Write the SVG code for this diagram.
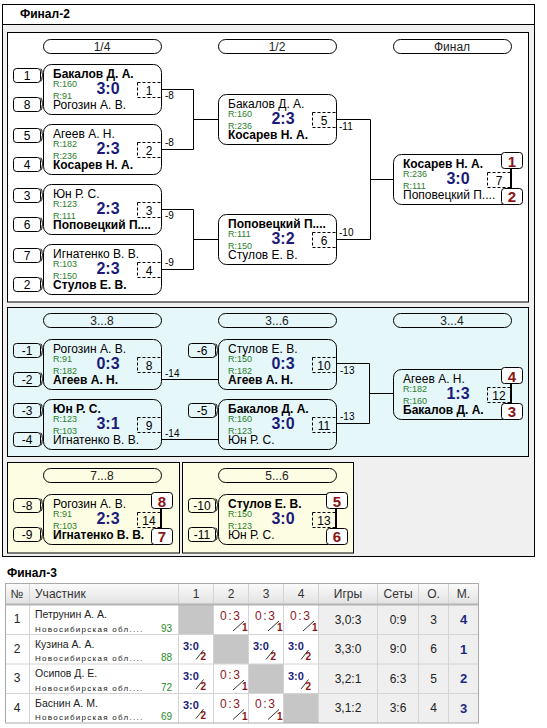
<svg xmlns="http://www.w3.org/2000/svg" xmlns:xlink="http://www.w3.org/1999/xlink" width="547" height="728" viewBox="0 0 547 728">
<style>
text{font-family:"Liberation Sans",Arial,sans-serif;fill:#000}
.frm{fill:#f0f0f0;stroke:#000}
.pnl{stroke:#000}
.box{fill:none;stroke:#000}
.seed{fill:none;stroke:#000}
.dash{fill:none;stroke:#000;stroke-dasharray:3,2}
.place{fill:#fff;stroke:#000}
.conn{fill:none;stroke:#000}
.br{fill:none;stroke:#000}
.ttl{font-size:12px;font-weight:bold}
.ph{font-size:12px;text-anchor:middle;fill:#222}
.nb{font-size:12px;font-weight:bold}
.nr{font-size:12px}
.r{font-size:9px;fill:#2b7d2b}
.sc{font-size:16px;font-weight:bold;fill:#1b1b78;text-anchor:middle}
.num{font-size:12px;text-anchor:middle}
.lbl{font-size:10px}
.pl{font-size:15px;font-weight:bold;fill:#8b1414;text-anchor:middle}
.th{font-size:12px;fill:#333}
.thc{font-size:12px;fill:#333;text-anchor:middle}
.tn{font-size:10.5px;fill:#222}
.reg{font-size:8px;fill:#222;letter-spacing:0.8px}
.rt{font-size:10px;fill:#2b8a2b;text-anchor:end}
.st{font-size:12px;fill:#222;text-anchor:middle}
.mp{font-size:13px;font-weight:bold;fill:#1b2a80;text-anchor:middle}
.lo{font-size:12px;fill:#8b1a1a}
.wi{font-size:11px;font-weight:bold;fill:#1b1b78}
.dg{font-size:10px;font-weight:bold;fill:#8b1414}
.sl{stroke:#333;stroke-width:1}
.grid{stroke:#d4d4d4;stroke-width:1}
</style>
<defs>
<path id="br" class="br" d="M0,1 C2.5,1 0.5,7 3,7 C0.5,7 2.5,13 0,13"/>
<linearGradient id="hg" x1="0" y1="0" x2="0" y2="1"><stop offset="0" stop-color="#fbfbfb"/><stop offset="1" stop-color="#e2e2e2"/></linearGradient>
</defs>

<!-- frame and panels -->
<rect class="frm" x="2.5" y="4.5" width="532" height="552"/>
<rect x="2.5" y="4.5" width="532" height="20" fill="#fff" stroke="#000"/>
<text class="ttl" x="20" y="18">Финал-2</text>
<rect class="pnl" x="7.5" y="32.5" width="521" height="269.5" fill="#fff"/>
<rect class="pnl" x="7.5" y="307.5" width="521" height="149" fill="#e6f7fa"/>
<rect class="pnl" x="7.5" y="462.5" width="172" height="90.5" fill="#fdfde4"/>
<rect class="pnl" x="182.5" y="462.5" width="171" height="90.5" fill="#fdfde4"/>

<!-- round headers -->
<g id="hdr-1-4"><rect class="box" x="43.5" y="39.5" width="118" height="14" rx="7"/><text class="ph" x="102" y="50.5">1/4</text></g>
<g id="hdr-1-2"><rect class="box" x="218.5" y="39.5" width="118" height="14" rx="7"/><text class="ph" x="277" y="50.5">1/2</text></g>
<g id="hdr-final"><rect class="box" x="393.5" y="39.5" width="118" height="14" rx="7"/><text class="ph" x="452" y="50.5">Финал</text></g>
<g id="hdr-3-8"><rect class="box" x="43.5" y="313.5" width="118" height="14" rx="7"/><text class="ph" x="102" y="324.5">3...8</text></g>
<g id="hdr-3-6"><rect class="box" x="218.5" y="313.5" width="118" height="14" rx="7"/><text class="ph" x="277" y="324.5">3...6</text></g>
<g id="hdr-3-4"><rect class="box" x="393.5" y="313.5" width="118" height="14" rx="7"/><text class="ph" x="452" y="324.5">3...4</text></g>
<g id="hdr-7-8"><rect class="box" x="43.5" y="468.5" width="118" height="14" rx="7"/><text class="ph" x="102" y="479.5">7...8</text></g>
<g id="hdr-5-6"><rect class="box" x="218.5" y="468.5" width="118" height="14" rx="7"/><text class="ph" x="277" y="479.5">5...6</text></g>

<!-- connectors -->
<g id="connectors">
<path class="conn" d="M161,89.5 H193.5 V149.5 H161 M193.5,119.5 H218"/>
<path class="conn" d="M161,209.5 H193.5 V269.5 H161 M193.5,239.5 H218"/>
<path class="conn" d="M336,119.5 H370.5 V239.5 H336 M370.5,179.5 H393"/>
<path class="conn" d="M161,379.5 H218 M161,439.5 H218"/>
<path class="conn" d="M336,363.5 H369.5 V423.5 H336 M369.5,393.5 H393"/>
<text class="lbl" x="165" y="99">-8</text>
<text class="lbl" x="165" y="146">-8</text>
<text class="lbl" x="165" y="219">-9</text>
<text class="lbl" x="165" y="266">-9</text>
<text class="lbl" x="339" y="130">-11</text>
<text class="lbl" x="339" y="236">-10</text>
<text class="lbl" x="165" y="376.5">-14</text>
<text class="lbl" x="165" y="436.5">-14</text>
<text class="lbl" x="340" y="374">-13</text>
<text class="lbl" x="340" y="420">-13</text>
</g>

<!-- QF match 1 -->
<g id="m1">
<rect class="seed" x="13.5" y="68.5" width="27" height="14" rx="3"/><text class="num" x="27" y="79.5">1</text><use xlink:href="#br" x="40.5" y="68"/>
<rect class="seed" x="13.5" y="97.5" width="27" height="14" rx="3"/><text class="num" x="27" y="108.5">8</text><use xlink:href="#br" x="40.5" y="97"/>
<rect class="box" x="43.5" y="64.5" width="118" height="50" rx="8"/>
<text class="nb" x="53" y="78">Бакалов Д. А.</text><text class="r" x="53" y="87">R:160</text><text class="r" x="53" y="99">R:91</text><text class="nr" x="53" y="109">Рогозин А. В.</text>
<text class="sc" x="108" y="94">3:0</text>
<rect class="dash" x="137.5" y="82.5" width="24" height="15"/><text class="num" x="149" y="94.5">1</text>
</g>
<g id="m2">
<rect class="seed" x="13.5" y="128.5" width="27" height="14" rx="3"/><text class="num" x="27" y="139.5">5</text><use xlink:href="#br" x="40.5" y="128"/>
<rect class="seed" x="13.5" y="157.5" width="27" height="14" rx="3"/><text class="num" x="27" y="168.5">4</text><use xlink:href="#br" x="40.5" y="157"/>
<rect class="box" x="43.5" y="124.5" width="118" height="50" rx="8"/>
<text class="nr" x="53" y="138">Агеев А. Н.</text><text class="r" x="53" y="147">R:182</text><text class="r" x="53" y="159">R:236</text><text class="nb" x="53" y="169">Косарев Н. А.</text>
<text class="sc" x="108" y="154">2:3</text>
<rect class="dash" x="137.5" y="142.5" width="24" height="15"/><text class="num" x="149" y="154.5">2</text>
</g>
<g id="m3">
<rect class="seed" x="13.5" y="188.5" width="27" height="14" rx="3"/><text class="num" x="27" y="199.5">3</text><use xlink:href="#br" x="40.5" y="188"/>
<rect class="seed" x="13.5" y="217.5" width="27" height="14" rx="3"/><text class="num" x="27" y="228.5">6</text><use xlink:href="#br" x="40.5" y="217"/>
<rect class="box" x="43.5" y="184.5" width="118" height="50" rx="8"/>
<text class="nr" x="53" y="198">Юн Р. С.</text><text class="r" x="53" y="207">R:123</text><text class="r" x="53" y="219">R:111</text><text class="nb" x="53" y="229">Поповецкий П....</text>
<text class="sc" x="108" y="214">2:3</text>
<rect class="dash" x="137.5" y="202.5" width="24" height="15"/><text class="num" x="149" y="214.5">3</text>
</g>
<g id="m4">
<rect class="seed" x="13.5" y="248.5" width="27" height="14" rx="3"/><text class="num" x="27" y="259.5">7</text><use xlink:href="#br" x="40.5" y="248"/>
<rect class="seed" x="13.5" y="277.5" width="27" height="14" rx="3"/><text class="num" x="27" y="288.5">2</text><use xlink:href="#br" x="40.5" y="277"/>
<rect class="box" x="43.5" y="244.5" width="118" height="50" rx="8"/>
<text class="nr" x="53" y="258">Игнатенко В. В.</text><text class="r" x="53" y="267">R:103</text><text class="r" x="53" y="279">R:150</text><text class="nb" x="53" y="289">Стулов Е. В.</text>
<text class="sc" x="108" y="274">2:3</text>
<rect class="dash" x="137.5" y="262.5" width="24" height="15"/><text class="num" x="149" y="274.5">4</text>
</g>
<g id="m5">
<rect class="box" x="218.5" y="94.5" width="118" height="50" rx="8"/>
<text class="nr" x="228" y="108">Бакалов Д. А.</text><text class="r" x="228" y="117">R:160</text><text class="r" x="228" y="129">R:236</text><text class="nb" x="228" y="139">Косарев Н. А.</text>
<text class="sc" x="283" y="124">2:3</text>
<rect class="dash" x="312.5" y="112.5" width="24" height="15"/><text class="num" x="324" y="124.5">5</text>
</g>
<g id="m6">
<rect class="box" x="218.5" y="214.5" width="118" height="50" rx="8"/>
<text class="nb" x="228" y="228">Поповецкий П....</text><text class="r" x="228" y="237">R:111</text><text class="r" x="228" y="249">R:150</text><text class="nr" x="228" y="259">Стулов Е. В.</text>
<text class="sc" x="283" y="244">3:2</text>
<rect class="dash" x="312.5" y="232.5" width="24" height="15"/><text class="num" x="324" y="244.5">6</text>
</g>
<g id="m7">
<rect class="box" x="393.5" y="154.5" width="118" height="50" rx="8"/>
<text class="nb" x="403" y="168">Косарев Н. А.</text><text class="r" x="403" y="177">R:236</text><text class="r" x="403" y="189">R:111</text><text class="nr" x="403" y="199">Поповецкий П....</text>
<text class="sc" x="458" y="184">3:0</text>
<rect class="dash" x="487.5" y="172.5" width="24" height="15"/><text class="num" x="499" y="184.5">7</text>
<line class="conn" x1="510.5" y1="168.5" x2="510.5" y2="188.5"/>
<rect class="place" x="501.5" y="152.5" width="21" height="16" rx="3"/><text class="pl" x="512" y="167">1</text>
<rect class="place" x="501.5" y="188.5" width="21" height="16" rx="3"/><text class="pl" x="512" y="202">2</text>
</g>

<!-- 3...8 -->
<g id="m8">
<rect class="seed" x="13.5" y="343.5" width="27" height="14" rx="3"/><text class="num" x="27" y="354.5">-1</text><use xlink:href="#br" x="40.5" y="343"/>
<rect class="seed" x="13.5" y="372.5" width="27" height="14" rx="3"/><text class="num" x="27" y="383.5">-2</text><use xlink:href="#br" x="40.5" y="372"/>
<rect class="box" x="43.5" y="339.5" width="118" height="50" rx="8"/>
<text class="nr" x="53" y="353">Рогозин А. В.</text><text class="r" x="53" y="362">R:91</text><text class="r" x="53" y="374">R:182</text><text class="nb" x="53" y="384">Агеев А. Н.</text>
<text class="sc" x="108" y="369">0:3</text>
<rect class="dash" x="137.5" y="357.5" width="24" height="15"/><text class="num" x="149" y="369.5">8</text>
</g>
<g id="m9">
<rect class="seed" x="13.5" y="403.5" width="27" height="14" rx="3"/><text class="num" x="27" y="414.5">-3</text><use xlink:href="#br" x="40.5" y="403"/>
<rect class="seed" x="13.5" y="432.5" width="27" height="14" rx="3"/><text class="num" x="27" y="443.5">-4</text><use xlink:href="#br" x="40.5" y="432"/>
<rect class="box" x="43.5" y="399.5" width="118" height="50" rx="8"/>
<text class="nb" x="53" y="413">Юн Р. С.</text><text class="r" x="53" y="422">R:123</text><text class="r" x="53" y="434">R:103</text><text class="nr" x="53" y="444">Игнатенко В. В.</text>
<text class="sc" x="108" y="429">3:1</text>
<rect class="dash" x="137.5" y="417.5" width="24" height="15"/><text class="num" x="149" y="429.5">9</text>
</g>
<g id="m10">
<rect class="seed" x="188.5" y="343.5" width="27" height="14" rx="3"/><text class="num" x="202" y="354.5">-6</text><use xlink:href="#br" x="215.5" y="343"/>
<rect class="box" x="218.5" y="339.5" width="118" height="50" rx="8"/>
<text class="nr" x="228" y="353">Стулов Е. В.</text><text class="r" x="228" y="362">R:150</text><text class="r" x="228" y="374">R:182</text><text class="nb" x="228" y="384">Агеев А. Н.</text>
<text class="sc" x="283" y="369">0:3</text>
<rect class="dash" x="312.5" y="357.5" width="24" height="15"/><text class="num" x="324" y="369.5">10</text>
</g>
<g id="m11">
<rect class="seed" x="188.5" y="403.5" width="27" height="14" rx="3"/><text class="num" x="202" y="414.5">-5</text><use xlink:href="#br" x="215.5" y="403"/>
<rect class="box" x="218.5" y="399.5" width="118" height="50" rx="8"/>
<text class="nb" x="228" y="413">Бакалов Д. А.</text><text class="r" x="228" y="422">R:160</text><text class="r" x="228" y="434">R:123</text><text class="nr" x="228" y="444">Юн Р. С.</text>
<text class="sc" x="283" y="429">3:0</text>
<rect class="dash" x="312.5" y="417.5" width="24" height="15"/><text class="num" x="324" y="429.5">11</text>
</g>
<g id="m12">
<rect class="box" x="393.5" y="369.5" width="118" height="50" rx="8"/>
<text class="nr" x="403" y="383">Агеев А. Н.</text><text class="r" x="403" y="392">R:182</text><text class="r" x="403" y="404">R:160</text><text class="nb" x="403" y="414">Бакалов Д. А.</text>
<text class="sc" x="458" y="399">1:3</text>
<rect class="dash" x="487.5" y="387.5" width="24" height="15"/><text class="num" x="499" y="399.5">12</text>
<line class="conn" x1="510.5" y1="383.5" x2="510.5" y2="403.5"/>
<rect class="place" x="501.5" y="367.5" width="21" height="16" rx="3"/><text class="pl" x="512" y="382">4</text>
<rect class="place" x="501.5" y="403.5" width="21" height="16" rx="3"/><text class="pl" x="512" y="417">3</text>
</g>

<!-- 7...8 -->
<g id="m14">
<rect class="seed" x="13.5" y="498.5" width="27" height="14" rx="3"/><text class="num" x="27" y="509.5">-8</text><use xlink:href="#br" x="40.5" y="498"/>
<rect class="seed" x="13.5" y="527.5" width="27" height="14" rx="3"/><text class="num" x="27" y="538.5">-9</text><use xlink:href="#br" x="40.5" y="527"/>
<rect class="box" x="43.5" y="494.5" width="118" height="50" rx="8"/>
<text class="nr" x="53" y="508">Рогозин А. В.</text><text class="r" x="53" y="517">R:91</text><text class="r" x="53" y="529">R:103</text><text class="nb" x="53" y="539">Игнатенко В. В.</text>
<text class="sc" x="108" y="524">2:3</text>
<rect class="dash" x="137.5" y="512.5" width="24" height="15"/><text class="num" x="149" y="524.5">14</text>
<line class="conn" x1="160.5" y1="508.5" x2="160.5" y2="528.5"/>
<rect class="place" x="151.5" y="492.5" width="21" height="16" rx="3"/><text class="pl" x="162" y="507">8</text>
<rect class="place" x="151.5" y="528.5" width="21" height="16" rx="3"/><text class="pl" x="162" y="542">7</text>
</g>
<!-- 5...6 -->
<g id="m13">
<rect class="seed" x="188.5" y="498.5" width="27" height="14" rx="3"/><text class="num" x="202" y="509.5">-10</text><use xlink:href="#br" x="215.5" y="498"/>
<rect class="seed" x="188.5" y="527.5" width="27" height="14" rx="3"/><text class="num" x="202" y="538.5">-11</text><use xlink:href="#br" x="215.5" y="527"/>
<rect class="box" x="218.5" y="494.5" width="118" height="50" rx="8"/>
<text class="nb" x="228" y="508">Стулов Е. В.</text><text class="r" x="228" y="517">R:150</text><text class="r" x="228" y="529">R:123</text><text class="nr" x="228" y="539">Юн Р. С.</text>
<text class="sc" x="283" y="524">3:0</text>
<rect class="dash" x="312.5" y="512.5" width="24" height="15"/><text class="num" x="324" y="524.5">13</text>
<line class="conn" x1="335.5" y1="508.5" x2="335.5" y2="528.5"/>
<rect class="place" x="326.5" y="492.5" width="21" height="16" rx="3"/><text class="pl" x="337" y="507">5</text>
<rect class="place" x="326.5" y="528.5" width="21" height="16" rx="3"/><text class="pl" x="337" y="542">6</text>
</g>

<!-- Final-3 table -->
<g id="table">
<text class="ttl" x="7" y="577">Финал-3</text>
<rect x="5.5" y="583.5" width="473" height="20.5" fill="url(#hg)"/>
<rect x="5.5" y="605" width="313" height="118" fill="#fff"/>
<rect x="318.5" y="605" width="160" height="118" fill="#efefef"/>
<rect x="178.5" y="605" width="35" height="29.5" fill="#c6c6c6"/>
<rect x="213.5" y="634.5" width="35" height="29.5" fill="#c6c6c6"/>
<rect x="248.5" y="664" width="35" height="29.5" fill="#c6c6c6"/>
<rect x="283.5" y="693.5" width="35" height="29.5" fill="#c6c6c6"/>
<g class="grid">
<line x1="29.5" y1="584" x2="29.5" y2="723"/><line x1="178.5" y1="584" x2="178.5" y2="723"/><line x1="213.5" y1="584" x2="213.5" y2="723"/><line x1="248.5" y1="584" x2="248.5" y2="723"/><line x1="283.5" y1="584" x2="283.5" y2="723"/><line x1="318.5" y1="584" x2="318.5" y2="723"/><line x1="377.5" y1="584" x2="377.5" y2="723"/><line x1="418.5" y1="584" x2="418.5" y2="723"/><line x1="448.5" y1="584" x2="448.5" y2="723"/>
<line x1="5.5" y1="634.5" x2="478.5" y2="634.5"/><line x1="5.5" y1="664" x2="478.5" y2="664"/><line x1="5.5" y1="693.5" x2="478.5" y2="693.5"/>
</g>
<line x1="5.5" y1="604.5" x2="478.5" y2="604.5" stroke="#b4b4b4" stroke-width="2"/>
<rect x="5.5" y="583.5" width="473" height="139.5" fill="none" stroke="#aaaaaa"/>
<text class="thc" x="17" y="598">№</text><text class="th" x="35" y="598">Участник</text>
<text class="thc" x="196" y="598">1</text><text class="thc" x="231" y="598">2</text><text class="thc" x="266" y="598">3</text><text class="thc" x="301" y="598">4</text>
<text class="thc" x="348" y="598">Игры</text><text class="thc" x="398" y="598">Сеты</text><text class="thc" x="433.5" y="598">О.</text><text class="thc" x="463.5" y="598">М.</text>

<g id="row1">
<text class="st" x="17" y="623">1</text><text class="tn" x="35" y="618">Петрунин А. А.</text><text class="reg" x="35" y="631.5" textLength="108">Новосибирская обл....</text><text class="rt" x="172" y="631.5">93</text>
<text class="lo" x="220" y="619.5" textLength="20">0:3</text><line class="sl" x1="233" y1="631" x2="244" y2="621"/><text class="dg" x="242" y="631">1</text>
<text class="lo" x="255" y="619.5" textLength="20">0:3</text><line class="sl" x1="268" y1="631" x2="279" y2="621"/><text class="dg" x="277" y="631">1</text>
<text class="lo" x="290" y="619.5" textLength="20">0:3</text><line class="sl" x1="303" y1="631" x2="314" y2="621"/><text class="dg" x="312" y="631">1</text>
<text class="st" x="348" y="623.5">3,0:3</text><text class="st" x="398" y="623.5">0:9</text><text class="st" x="433.5" y="623.5">3</text><text class="mp" x="463.5" y="624">4</text>
</g>
<g id="row2">
<text class="st" x="17" y="652.5">2</text><text class="tn" x="35" y="647.5">Кузина А. А.</text><text class="reg" x="35" y="661" textLength="108">Новосибирская обл....</text><text class="rt" x="172" y="661">88</text>
<text class="wi" x="183" y="650">3:0</text><line class="sl" x1="196" y1="659.5" x2="203.5" y2="650"/><text class="dg" x="200.5" y="660">2</text>
<text class="wi" x="253" y="650">3:0</text><line class="sl" x1="266" y1="659.5" x2="273.5" y2="650"/><text class="dg" x="270.5" y="660">2</text>
<text class="wi" x="288" y="650">3:0</text><line class="sl" x1="301" y1="659.5" x2="308.5" y2="650"/><text class="dg" x="305.5" y="660">2</text>
<text class="st" x="348" y="653">3,3:0</text><text class="st" x="398" y="653">9:0</text><text class="st" x="433.5" y="653">6</text><text class="mp" x="463.5" y="653.5">1</text>
</g>
<g id="row3">
<text class="st" x="17" y="682">3</text><text class="tn" x="35" y="677">Осипов Д. Е.</text><text class="reg" x="35" y="690.5" textLength="108">Новосибирская обл....</text><text class="rt" x="172" y="690.5">72</text>
<text class="wi" x="183" y="679.5">3:0</text><line class="sl" x1="196" y1="689" x2="203.5" y2="679.5"/><text class="dg" x="200.5" y="689.5">2</text>
<text class="lo" x="220" y="678.5" textLength="20">0:3</text><line class="sl" x1="233" y1="690" x2="244" y2="680"/><text class="dg" x="242" y="690">1</text>
<text class="wi" x="288" y="679.5">3:0</text><line class="sl" x1="301" y1="689" x2="308.5" y2="679.5"/><text class="dg" x="305.5" y="689.5">2</text>
<text class="st" x="348" y="682.5">3,2:1</text><text class="st" x="398" y="682.5">6:3</text><text class="st" x="433.5" y="682.5">5</text><text class="mp" x="463.5" y="683">2</text>
</g>
<g id="row4">
<text class="st" x="17" y="711.5">4</text><text class="tn" x="35" y="706.5">Баснин А. М.</text><text class="reg" x="35" y="720" textLength="108">Новосибирская обл....</text><text class="rt" x="172" y="720">69</text>
<text class="wi" x="183" y="709">3:0</text><line class="sl" x1="196" y1="718.5" x2="203.5" y2="709"/><text class="dg" x="200.5" y="719">2</text>
<text class="lo" x="220" y="708" textLength="20">0:3</text><line class="sl" x1="233" y1="719.5" x2="244" y2="709.5"/><text class="dg" x="242" y="719.5">1</text>
<text class="lo" x="255" y="708" textLength="20">0:3</text><line class="sl" x1="268" y1="719.5" x2="279" y2="709.5"/><text class="dg" x="277" y="719.5">1</text>
<text class="st" x="348" y="712">3,1:2</text><text class="st" x="398" y="712">3:6</text><text class="st" x="433.5" y="712">4</text><text class="mp" x="463.5" y="712.5">3</text>
</g>
</g>
</svg>
